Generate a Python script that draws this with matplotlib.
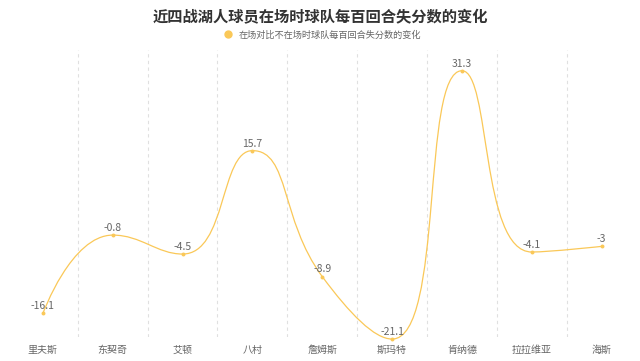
import matplotlib
matplotlib.use("Agg")
import matplotlib.pyplot as plt
from matplotlib.path import Path
from matplotlib.patches import PathPatch
from matplotlib.lines import Line2D
import numpy as np

plt.rcParams['font.family'] = ['Noto Sans CJK SC', 'DejaVu Sans']

title = '近四战湖人球员在场时球队每百回合失分数的变化'
series_name = '在场对比不在场时球队每百回合失分数的变化'
players = ['里夫斯', '东契奇', '艾顿', '八村', '詹姆斯', '斯玛特', '肯纳德', '拉拉维亚', '海斯']
values = [-16.1, -0.8, -4.5, 15.7, -8.9, -21.1, 31.3, -4.1, -3]

color = '#fac858'
text_gray = '#666666'

fig = plt.figure(figsize=(6.4, 3.61), dpi=100)
ax = fig.add_axes([8 / 640, 24 / 361, 628.5 / 640, 287 / 361])
ax.set_xlim(-0.5, len(players) - 0.5)
ax.set_ylim(-20.7, 35.35)

# pixel scale, used for the echarts-like smoothing
sx = ax.bbox.width / len(players)
sy = ax.bbox.height / (35.35 + 20.7)


def smooth_path(xs, ys, smooth=0.5):
    px = [x * sx for x in xs]
    py = [y * sy for y in ys]
    verts = [(px[0], py[0])]
    codes = [Path.MOVETO]
    cpx0, cpy0 = px[0], py[0]
    n = len(px)
    for i in range(1, n):
        x, y = px[i], py[i]
        prev_x, prev_y = px[i - 1], py[i - 1]
        if i == n - 1:
            cpx1, cpy1 = x, y
            ncx, ncy = x, y
        else:
            nx, ny = px[i + 1], py[i + 1]
            vx, vy = nx - prev_x, ny - prev_y
            lp = np.hypot(x - prev_x, y - prev_y)
            ln = np.hypot(nx - x, ny - y)
            r = ln / (ln + lp)
            ncx = x + vx * smooth * r
            ncy = y + vy * smooth * r
            ncx = max(min(ncx, max(nx, x)), min(nx, x))
            ncy = max(min(ncy, max(ny, y)), min(ny, y))
            vx, vy = ncx - x, ncy - y
            cpx1 = x - vx * lp / ln
            cpy1 = y - vy * lp / ln
            cpx1 = max(min(cpx1, max(prev_x, x)), min(prev_x, x))
            cpy1 = max(min(cpy1, max(prev_y, y)), min(prev_y, y))
            vx, vy = x - cpx1, y - cpy1
            ncx = x + vx * ln / lp
            ncy = y + vy * ln / lp
        verts += [(cpx0, cpy0), (cpx1, cpy1), (x, y)]
        codes += [Path.CURVE4] * 3
        cpx0, cpy0 = ncx, ncy
    verts = [(a / sx, b / sy) for a, b in verts]
    return Path(verts, codes)


xs = list(range(len(players)))
ax.add_patch(PathPatch(smooth_path(xs, values), facecolor='none', edgecolor=color,
                       lw=0.9, clip_on=False, zorder=3))
ax.scatter(xs, values, s=8, color=color, zorder=4, clip_on=False, linewidths=0)
for x, v in zip(xs, values):
    ax.annotate(f'{v:g}', (x, v), xytext=(0, 1.5), textcoords='offset points',
                ha='center', va='bottom', fontsize=7.5, color=text_gray,
                annotation_clip=False)

for b in np.arange(0.5, len(players) - 1, 1):
    ax.axvline(b, color='#e0e0e0', lw=0.8, ls=(0, (3, 3)), zorder=1)

ax.set_xticks(xs)
ax.set_xticklabels(players, fontsize=7.2, color=text_gray)
ax.tick_params(axis='x', length=0, pad=5.5)
ax.set_yticks([])
for s in ax.spines.values():
    s.set_visible(False)

fig.text(0.5, 1 - 17 / 361, title, ha='center', va='center', fontsize=11,
         fontweight='bold', color='#333333')
handle = Line2D([], [], marker='o', ls='none', color=color, markersize=5)
fig.legend([handle], [series_name], loc='center', bbox_to_anchor=(0.5, 1 - 35 / 361),
           frameon=False, fontsize=6.6, labelcolor=text_gray, handletextpad=0.1,
           borderaxespad=0)

fig.savefig('out.png', dpi=100)
